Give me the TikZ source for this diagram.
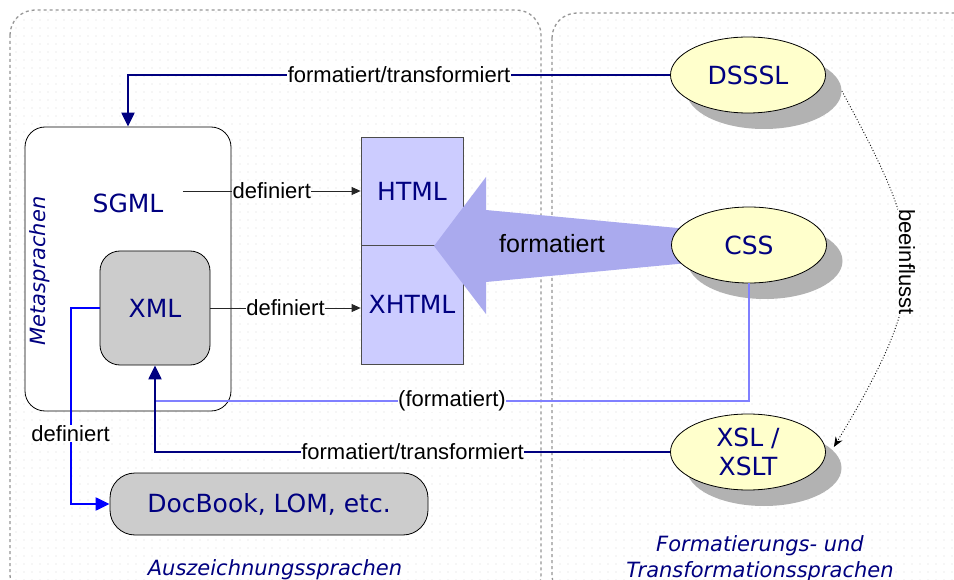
\documentclass[tikz,border=0pt]{standalone}
\usepackage{fontspec}
\setmainfont{DejaVu Sans}
\newfontfamily\afont{Liberation Sans}
\usetikzlibrary{shapes.geometric,arrows.meta,patterns.meta}
\definecolor{navy}{RGB}{0,0,128}
\definecolor{ltblue}{RGB}{128,128,255}
\definecolor{pureblue}{RGB}{0,0,255}
\definecolor{lav}{RGB}{204,204,255}
\definecolor{arrowlav}{RGB}{170,170,238}
\definecolor{ylw}{RGB}{255,255,204}
\definecolor{shd}{RGB}{178,178,178}
\definecolor{gbox}{RGB}{204,204,204}
\definecolor{framegray}{RGB}{150,150,150}
\begin{document}
\begin{tikzpicture}[x=1pt,y=-1pt,
  bigtxt/.style={font=\fontsize{25}{29}\selectfont, text=navy},
  ttl/.style={font=\itshape\fontsize{21}{26}\selectfont, text=navy},
  lab/.style={font=\afont\fontsize{22}{24}\selectfont, fill=white, inner sep=0.5pt},
  ell/.style={ellipse, draw=black, line width=0.8pt, fill=ylw, minimum width=155pt, minimum height=76pt, inner sep=0pt, bigtxt, align=center},
  rbox/.style={draw=black, line width=0.8pt, rounded corners=20pt, inner sep=0pt},
  lbox/.style={draw=black!70, line width=0.8pt, fill=lav, minimum width=102pt, inner sep=0pt, bigtxt},
  container/.style={draw=framegray, line width=1.3pt, dash pattern=on 3pt off 3pt, rounded corners=25pt},
  dots/.style={pattern={Dots[distance=8pt,radius=0.6pt]}, pattern color=gray!30, rounded corners=25pt},
  navyline/.style={draw=navy, line width=2.2pt, -{Triangle[length=14pt,width=13pt]}},
  defline/.style={draw=black!85, line width=0.8pt, -{Triangle[length=9pt,width=8pt]}},
  blueline/.style={draw=pureblue, line width=2.2pt, -{Triangle[length=14pt,width=13pt]}},
  ltline/.style={draw=ltblue, line width=1.8pt},
  infl/.style={draw=black, line width=0.9pt, dotted, -{Stealth[length=10pt,width=8pt]}}
]
\useasboundingbox (0,0) rectangle (954,580);
\clip (0,0) rectangle (954,580);
\fill[white] (0,0) rectangle (954,580);

% containers
\fill[dots] (10,10) rectangle (541,600);
\draw[container] (10,10) rectangle (541,600);
\fill[dots] (552,13) rectangle (990,600);
\draw[container] (552,13) rectangle (990,600);

% SGML container box
\node[rbox, fill=white, minimum width=206pt, minimum height=284pt] (sgml) at (128,269) {};
\node[bigtxt] (sgmltxt) at (128,203) {SGML};
\node[ttl, rotate=90] (meta) at (40,271) {Metasprachen};
\node[rbox, fill=gbox, minimum width=110pt, minimum height=114pt, bigtxt] (xml) at (155,308) {XML};

% HTML / XHTML
\node[lbox, minimum height=108pt] (html) at (412,191) {HTML};
\node[lbox, minimum height=119pt] (xhtml) at (412,304.5) {XHTML};

% DocBook
\node[draw=black, line width=0.8pt, fill=gbox, rounded corners=25pt, minimum width=318pt, minimum height=62pt, inner sep=0pt, bigtxt] (docbook) at (269,504) {DocBook, LOM, etc.};

% big arrow
\fill[arrowlav] (434,246) -- (486,177) -- (486,210) -- (720,232) -- (720,260) -- (486,282) -- (486,314) -- cycle;
\node[font=\afont\fontsize{25}{28}\selectfont] (fmt) at (552,244) {formatiert};

% ellipses with shadows
\fill[shd] (764,91) ellipse [x radius=77.5pt, y radius=38pt];
\fill[shd] (765,261) ellipse [x radius=77.5pt, y radius=38pt];
\fill[shd] (764,468) ellipse [x radius=77.5pt, y radius=38pt];
\node[ell] (dsssl) at (748,75) {DSSSL};
\node[ell] (css) at (749,245) {CSS};
\node[ell] (xsl) at (748,452) {XSL /\\XSLT};

% titles
\node[ttl] (auz) at (275,570) {Auszeichnungssprachen};
\node[ttl, align=center] (fts) at (760,559) {Formatierungs- und\\Transformationssprachen};

% connectors
\draw[navyline] (dsssl.west) -| node[lab, pos=0.25] {formatiert/transformiert} (sgml.north);
\draw[defline] ([xshift=16pt]sgmltxt.east |- html.west) -- node[lab] {definiert} (html.west);
\draw[defline] (xml.east) -- node[lab] {definiert} (xml.east -| xhtml.west);
\coordinate (join) at (155,401);
\draw[ltline] (css.south) |- node[lab, pos=0.75] {(formatiert)} (join);
\draw[navyline] (xsl.west) -| node[lab, pos=0.25] {formatiert/transformiert} (xml.south);
\draw[blueline] (xml.west) -- ++(-29,0) |- node[lab, pos=0.32] {definiert} (docbook.west);
\draw[infl] ([shift={(16,16)}]dsssl.east) .. controls (923,242) and (937,277) .. node[lab, rotate=-90] {beeinflusst} ([shift={(8,-5)}]xsl.east);
\end{tikzpicture}
\end{document}
